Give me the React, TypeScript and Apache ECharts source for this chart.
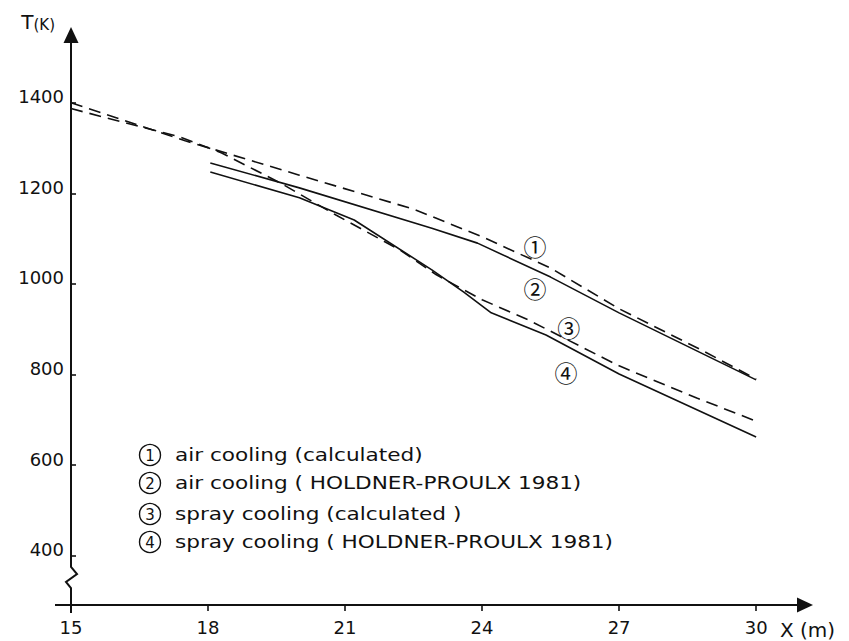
import React, { useEffect, useRef } from "react";
import * as echarts from "echarts";

// ---- data ----
const xTicks = [15, 18, 21, 24, 27, 30];
const yTicks = [400, 600, 800, 1000, 1200, 1400];

const airCalcX = [15, 17.5, 20, 22.5, 24, 25.5, 27, 28.8, 30];
const airCalcT = [1400, 1316, 1240, 1165, 1104, 1035, 945, 854, 790];

const airMeasX = [18.05, 20, 22.9, 23.9, 25.5, 27, 30];
const airMeasT = [1267, 1212, 1123, 1090, 1015, 936, 788];

const sprayCalcX = [15, 17.4, 18.3, 19.6, 20.8, 22.2, 23, 24, 25, 27, 28.7, 30];
const sprayCalcT = [1387, 1324, 1289, 1222, 1152, 1075, 1020, 965, 921, 819, 748, 697];

const sprayMeasX = [18.05, 20, 21.2, 22.9, 23.6, 24.2, 25.4, 27, 30];
const sprayMeasT = [1247, 1190, 1141, 1031, 982, 936, 887, 801, 662];

const curveMarks = ["①", "②", "③", "④"];
const curveNumbers = ["1", "2", "3", "4"];
const legendTexts = [
  "air cooling (calculated)",
  "air cooling ( HOLDNER-PROULX 1981)",
  "spray cooling (calculated )",
  "spray cooling ( HOLDNER-PROULX 1981)",
];
// where each circled number sits, in data units (x in m, T in K)
const markAnchorX = [25.16, 25.16, 25.9, 25.84];
const markAnchorT = [1084, 991, 905, 805];

const FONT = "DejaVu Sans";
const MARK_FONT = "Noto Sans CJK JP";
const INK = "#111";

function zip(xs: number[], ys: number[]) {
  return xs.map((x, i) => [x, ys[i]]);
}

export default function App() {
  const ref = useRef<HTMLDivElement>(null);

  useEffect(() => {
    if (!ref.current) return;
    const chart = echarts.init(ref.current, null, { renderer: "svg" });

    const seriesDefs = [
      { x: airCalcX, y: airCalcT, dashed: true },
      { x: airMeasX, y: airMeasT, dashed: false },
      { x: sprayCalcX, y: sprayCalcT, dashed: true },
      { x: sprayMeasX, y: sprayMeasT, dashed: false },
    ];

    const series = seriesDefs.map((s, i) => ({
      name: legendTexts[i],
      type: "line",
      data: zip(s.x, s.y),
      symbol: "none",
      smooth: false,
      lineStyle: {
        color: INK,
        width: 1.6,
        type: s.dashed ? [12, 7] : "solid",
      },
      markPoint: {
        symbol: "circle",
        symbolSize: 22,
        itemStyle: { color: "rgba(0,0,0,0)" },
        label: {
          show: true,
          position: "inside",
          formatter: curveMarks[i],
          color: INK,
          fontSize: 23,
          lineHeight: 23,
          fontFamily: MARK_FONT,
        },
        data: [{ coord: [markAnchorX[i], markAnchorT[i]] }],
      },
    }));

    const rowY = [455, 483, 514, 542];
    const legendGraphics: any[] = [];
    legendTexts.forEach((t, i) => {
      legendGraphics.push({
        type: "circle",
        shape: { cx: 150, cy: rowY[i], r: 10.5 },
        style: { fill: "none", stroke: INK, lineWidth: 1.4 },
      });
      legendGraphics.push({
        type: "text",
        x: 150,
        y: rowY[i] + 0.5,
        style: {
          text: curveNumbers[i],
          fill: INK,
          fontSize: 15,
          fontFamily: FONT,
          align: "center",
          verticalAlign: "middle",
        },
      });
      legendGraphics.push({
        type: "text",
        x: 175,
        y: rowY[i],
        scaleX: 1.2,
        style: {
          text: t,
          fill: INK,
          fontSize: 18,
          lineHeight: 20,
          fontFamily: FONT,
          align: "left",
          verticalAlign: "middle",
        },
      });
    });

    const option: any = {
      animation: false,
      backgroundColor: "#fff",
      grid: {
        left: 71,
        right: 44,
        top: 35,
        bottom: 36,
        containLabel: false,
        outerBoundsMode: "none",
      },
      xAxis: {
        type: "value",
        min: 15,
        max: 31.07,
        name: "X (m)",
        nameLocation: "end",
        nameGap: -25,
        nameTextStyle: {
          color: INK,
          fontSize: 20,
          fontFamily: FONT,
          verticalAlign: "top",
          lineHeight: 20,
          padding: [15, 0, 0, 0],
        },
        axisLine: {
          show: true,
          symbol: ["none", "triangle"],
          symbolSize: [15, 16],
          lineStyle: { color: INK, width: 2 },
        },
        axisTick: {
          show: true,
          length: 6,
          customValues: xTicks,
          lineStyle: { color: INK, width: 1.6 },
        },
        axisLabel: {
          show: true,
          customValues: xTicks,
          margin: 13,
          color: INK,
          fontSize: 18,
          fontFamily: FONT,
          formatter: (v: number) => String(v),
        },
        splitLine: { show: false },
      },
      yAxis: {
        type: "value",
        min: 291,
        max: 1549.5,
        name: "{a|T}{b|(K)}",
        nameLocation: "end",
        nameGap: 3,
        nameTextStyle: {
          align: "right",
          verticalAlign: "bottom",
          padding: [0, 16, 0, 0],
          rich: {
            a: { fontSize: 20, fontFamily: FONT, color: INK, lineHeight: 20, verticalAlign: "bottom" },
            b: { fontSize: 15, fontFamily: FONT, color: INK, lineHeight: 17, verticalAlign: "bottom" },
          },
        },
        axisLine: {
          show: true,
          symbol: ["none", "triangle"],
          symbolSize: [15, 16],
          lineStyle: { color: INK, width: 2 },
        },
        axisTick: {
          show: true,
          inside: true,
          length: 5,
          customValues: yTicks,
          lineStyle: { color: INK, width: 1.6 },
        },
        axisLabel: {
          show: true,
          customValues: yTicks,
          margin: 7,
          color: INK,
          fontSize: 18,
          fontFamily: FONT,
          verticalAlign: "bottom",
          lineHeight: 12,
          formatter: (v: number) => String(v),
        },
        splitLine: { show: false },
      },
      series,
      graphic: [
        // axis stubs beyond the origin
        {
          type: "line",
          shape: { x1: 55, y1: 605, x2: 71, y2: 605 },
          style: { stroke: INK, lineWidth: 2 },
          z: 10,
        },
        {
          type: "line",
          shape: { x1: 71, y1: 605, x2: 71, y2: 613 },
          style: { stroke: INK, lineWidth: 2 },
          z: 10,
        },
        // axis break
        {
          type: "rect",
          shape: { x: 63, y: 566, width: 16, height: 22 },
          style: { fill: "#fff" },
          z: 10,
        },
        {
          type: "polyline",
          shape: {
            points: [
              [71, 564],
              [71, 567],
              [77, 574],
              [66, 582],
              [71, 588],
              [71, 590],
            ],
          },
          style: { stroke: INK, lineWidth: 2, fill: "none" },
          z: 11,
        },
        ...legendGraphics,
      ],
    };

    chart.setOption(option);
    return () => chart.dispose();
  }, []);

  return (
    <div
      ref={ref}
      style={{ position: "absolute", left: 0, top: 0, width: 849, height: 641 }}
    />
  );
}
